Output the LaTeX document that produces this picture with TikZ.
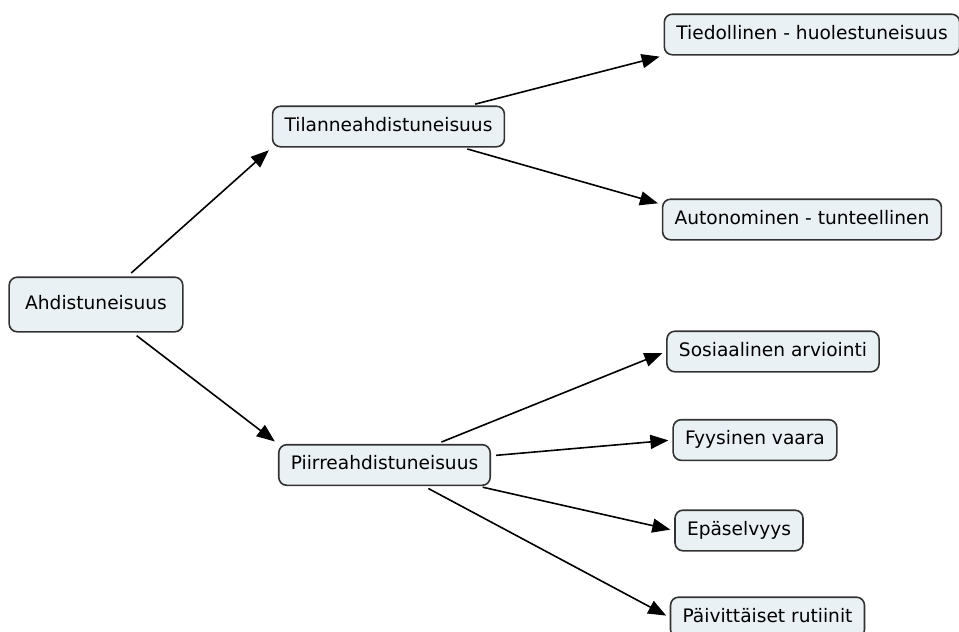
\documentclass[tikz,border=0pt]{standalone}
\usepackage{fontspec}
\setmainfont{DejaVu Sans}
\usepackage{xcolor}
\usepackage{tikz}
\usetikzlibrary{arrows.meta}
\definecolor{conceptfill}{RGB}{234,241,245}
\definecolor{conceptline}{RGB}{50,50,50}
\tikzset{
    concept/.style={rectangle, rounded corners=8pt, draw=conceptline, line width=1.6pt, fill=conceptfill, text height=14pt, text depth=4.6pt, inner xsep=12pt, inner ysep=11pt, font=\fontsize{18.6}{22}\selectfont},
    rootconcept/.style={concept, inner xsep=16pt, inner ysep=18pt},
    arrow/.style={-{Triangle[length=18pt,width=14pt]}, line width=1.6pt, shorten <=5pt, shorten >=4pt},
}

\begin{document}
\begin{tikzpicture}[x=1pt, y=-1pt]
    \useasboundingbox (0,0) rectangle (959,632);

    % Nodes
    \node[rootconcept] (ahd) at (96,304.5) {Ahdistuneisuus};
    \node[concept] (tilanne) at (388.5,126.5) {Tilanneahdistuneisuus};
    \node[concept] (tiedollinen) at (812,34.5) {Tiedollinen - huolestuneisuus};
    \node[concept] (autonominen) at (802,219.5) {Autonominen - tunteellinen};
    \node[concept] (piirre) at (384.5,465) {Piirreahdistuneisuus};
    \node[concept] (sosiaalinen) at (773,351.5) {Sosiaalinen arviointi};
    \node[concept] (fyysinen) at (755,440) {Fyysinen vaara};
    \node[concept] (epaselvyys) at (739,530.5) {Epäselvyys};
    \node[concept] (rutiinit) at (767.5,617.5) {Päivittäiset rutiinit};

    % Arrows
    \draw[arrow] (ahd) -- (tilanne.south west);
    \draw[arrow] (ahd) -- (piirre.north west);
    \draw[arrow] (tilanne) -- (tiedollinen.south west);
    \draw[arrow] (tilanne) -- ([yshift=-6pt]autonominen.north west);
    \draw[arrow] (piirre) -- (sosiaalinen.west);
    \draw[arrow] (piirre) -- (fyysinen.west);
    \draw[arrow] (piirre) -- (epaselvyys.west);
    \draw[arrow] (piirre) -- (rutiinit.west);

\end{tikzpicture}
\end{document}
